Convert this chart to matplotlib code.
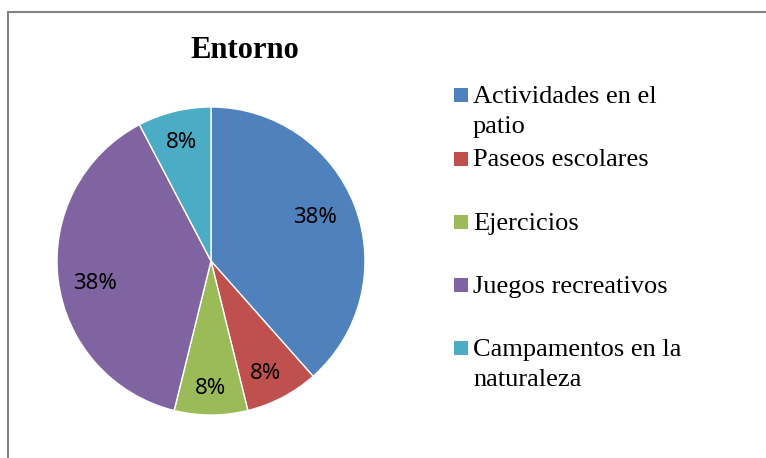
import matplotlib
matplotlib.use('Agg')
import matplotlib.pyplot as plt
from matplotlib.patches import Rectangle
from matplotlib.lines import Line2D
import numpy as np

# datos del grafico
titulo = 'Entorno'
categorias = ['Actividades en el\npatio', 'Paseos escolares', 'Ejercicios',
              'Juegos recreativos', 'Campamentos en la\nnaturaleza']
valores = [5, 1, 1, 5, 1]
colores = ['#4F81BD', '#C0504D', '#9BBB59', '#8064A2', '#4BACC6']

W, H = 766, 458
fig = plt.figure(figsize=(W / 100, H / 100), dpi=100)


def fx(x):
    return x / W


def fy(y):
    return 1 - y / H


# marco gris (solo izquierda y arriba)
fig.add_artist(Line2D([fx(7.5), fx(7.5)], [0, fy(11.5)], color='#848484', lw=1.5,
                      transform=fig.transFigure))
fig.add_artist(Line2D([fx(7.5), 1], [fy(11.5), fy(11.5)], color='#848484', lw=1.5,
                      transform=fig.transFigure))

# pastel
cx, cy, r = 211, 261, 154
ax = fig.add_axes([fx(cx - r), fy(cy + r), 2 * r / W, 2 * r / H])
wedges, textos, pcts = ax.pie(valores, colors=colores, startangle=90, counterclock=False,
                              autopct='%1.0f%%', pctdistance=0.78,
                              wedgeprops=dict(edgecolor='white', linewidth=1),
                              textprops=dict(fontfamily='Noto Sans', fontsize=16, color='black'))
# posicion de las etiquetas (distancia, giro en grados)
distancias = [0.73, 0.81, 0.83, 0.77, 0.79]
giros = [2, -2, 0, 4, 0]
for w, t, d, g in zip(wedges, pcts, distancias, giros):
    ang = np.deg2rad((w.theta1 + w.theta2) / 2 + g)
    t.set_position((d * np.cos(ang), d * np.sin(ang)))
ax.set_xlim(-1, 1)
ax.set_ylim(-1, 1)
ax.axis('off')

# titulo
fig.text(fx(245), fy(58), titulo, ha='center', va='baseline',
         fontfamily='Liberation Serif', fontweight='bold', fontsize=22)

# leyenda
base0 = 103.3
paso = 63.2
for i, (cat, col) in enumerate(zip(categorias, colores)):
    base = base0 + i * paso
    fig.add_artist(Rectangle((fx(454), fy(base - 1)), 14 / W, 14 / H, facecolor=col,
                             edgecolor='none', transform=fig.transFigure))
    for j, linea in enumerate(cat.split('\n')):
        fig.text(fx(473), fy(base + j * 30), linea, ha='left', va='baseline',
                 fontfamily='Liberation Serif', fontsize=19)

fig.savefig('out.png', dpi=100)
